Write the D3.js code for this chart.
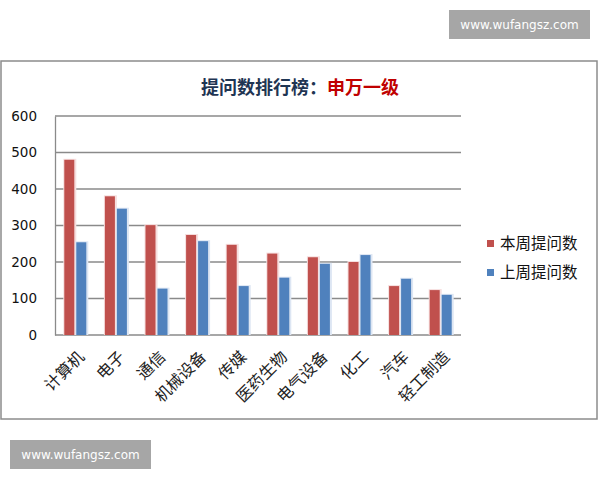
<html>
<head>
<meta charset="UTF-8">
<script src="https://d3js.org/d3.v7.min.js"></script>
<style>
  body { margin: 0; background: #fff; }
  text { font-family: "Noto Sans CJK SC", "DejaVu Sans", sans-serif; }
</style>
</head>
<body>
<svg id="chart" width="600" height="480"></svg>
<script>
const categories = ["计算机", "电子", "通信", "机械设备", "传媒", "医药生物", "电气设备", "化工", "汽车", "轻工制造"];
const thisWeek = [480, 380, 301, 274, 247, 223, 213, 200, 134, 123];
const lastWeek = [254, 346, 127, 257, 134, 157, 195, 219, 154, 110];
const seriesNames = ["本周提问数", "上周提问数"];
const colors = ["#c0504d", "#4f81bd"];
const yTicks = [0, 100, 200, 300, 400, 500, 600];

const svg = d3.select("#chart");

// watermarks
const marks = [{x: 449, y: 10}, {x: 10, y: 440}];
marks.forEach(m => {
  svg.append("rect").attr("x", m.x).attr("y", m.y).attr("width", 141).attr("height", 29).attr("fill", "#a6a6a6");
  svg.append("text").attr("x", m.x + 70.5).attr("y", m.y + 19).attr("text-anchor", "middle")
    .attr("fill", "#fff").style("font-family", "DejaVu Sans").style("font-size", "12px").text("www.wufangsz.com");
});

// chart frame
svg.append("rect").attr("x", 1).attr("y", 61).attr("width", 596).attr("height", 358)
  .attr("fill", "#fff").attr("stroke", "#8c8c8c").attr("stroke-width", 1.5);

// title
const title = svg.append("text").attr("x", 300).attr("y", 94).attr("text-anchor", "middle")
  .style("font-size", "18px").style("font-weight", "bold");
title.append("tspan").attr("fill", "#1f3553").text("提问数排行榜：");
title.append("tspan").attr("fill", "#c00000").text("申万一级");

const x = d3.scaleBand().domain(categories).range([55, 461]);
const y = d3.scaleLinear().domain([0, 600]).range([335, 116]);

// grid lines
svg.append("g").selectAll("line").data(yTicks).join("line")
  .attr("x1", 55).attr("x2", 461).attr("y1", d => y(d)).attr("y2", d => y(d))
  .attr("stroke", "#8a8a8a").attr("stroke-width", 1.3);

// y axis
const yAxis = svg.append("g").attr("transform", "translate(55,0)")
  .call(d3.axisLeft(y).tickValues(yTicks).tickSize(0).tickPadding(18));
yAxis.select(".domain").attr("stroke", "#8a8a8a").attr("stroke-width", 1.3);
yAxis.selectAll("text").style("font-family", "DejaVu Sans").style("font-size", "13.5px").attr("fill", "#111");

// bars
const barW = 10, gap = 2;
const series = [thisWeek, lastWeek];
series.forEach((vals, s) => {
  const xOff = x.bandwidth() / 2 - barW - gap / 2 + s * (barW + gap);
  const g = svg.append("g");
  // soft shadow
  g.selectAll("rect.sh").data(vals).join("rect").attr("class", "sh")
    .attr("x", (d, i) => x(categories[i]) + xOff - 1)
    .attr("y", d => y(d) - 1)
    .attr("width", barW + 3)
    .attr("height", d => y(0) - y(d) + 1)
    .attr("fill", s === 0 ? "#f6dede" : "#dde6f3");
  g.selectAll("rect.bar").data(vals).join("rect").attr("class", "bar")
    .attr("x", (d, i) => x(categories[i]) + xOff)
    .attr("y", d => y(d))
    .attr("width", barW)
    .attr("height", d => y(0) - y(d))
    .attr("fill", colors[s]);
});

// x labels
svg.append("g").selectAll("text").data(categories).join("text")
  .attr("transform", d => `translate(${x(d) + x.bandwidth() / 2 + 6},${354}) rotate(-45)`)
  .attr("text-anchor", "end")
  .attr("dy", "0.35em")
  .style("font-size", "16px")
  .attr("fill", "#222")
  .text(d => d);

// legend
const legend = svg.append("g").selectAll("g").data(seriesNames).join("g")
  .attr("transform", (d, i) => `translate(487,${244 + i * 29})`);
legend.append("rect").attr("x", 0).attr("y", -4).attr("width", 7).attr("height", 7)
  .attr("fill", (d, i) => colors[i]);
legend.append("text").attr("x", 13).attr("dy", "0.35em")
  .style("font-size", "15.5px").attr("fill", "#111").text(d => d);
</script>
</body>
</html>
